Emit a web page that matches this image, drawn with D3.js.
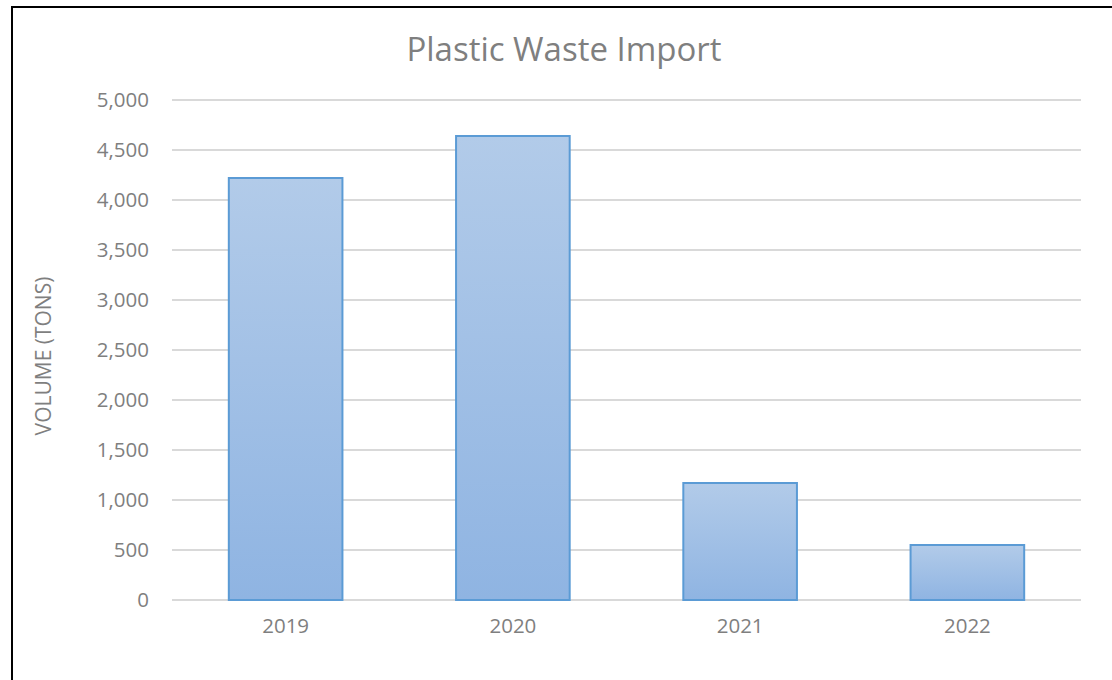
<!DOCTYPE html>
<html>
<head>
<meta charset="utf-8">
<script src="https://cdn.jsdelivr.net/npm/d3@7"></script>
<style>
  html, body { margin: 0; padding: 0; background: #fff; }
  svg { display: block; }
</style>
</head>
<body>
<svg id="chart" width="1112" height="680"></svg>
<script>
const title = "Plastic Waste Import";
const yAxisLabel = "VOLUME (TONS)";
const categories = ["2019", "2020", "2021", "2022"];
const values = [4220, 4640, 1170, 550];
const yTicks = [0, 500, 1000, 1500, 2000, 2500, 3000, 3500, 4000, 4500, 5000];

const svg = d3.select("#chart");
const W = 1112, H = 680;
const plot = { left: 172, right: 1081, top: 100, bottom: 600 };
const font = "'Open Sans', 'Noto Sans', sans-serif";
const textColor = "#7f7f7f";

// outer frame
svg.append("rect")
  .attr("x", 12).attr("y", 7)
  .attr("width", W + 20).attr("height", H + 20)
  .attr("fill", "#fff").attr("stroke", "#000").attr("stroke-width", 2);

const defs = svg.append("defs");
const grad = defs.append("linearGradient").attr("id", "barGrad")
  .attr("x1", 0).attr("y1", 0).attr("x2", 0).attr("y2", 1);
grad.append("stop").attr("offset", "0%").attr("stop-color", "#b2cbe9");
grad.append("stop").attr("offset", "100%").attr("stop-color", "#8fb4e2");

const x = d3.scaleBand().domain(categories)
  .range([plot.left, plot.right]).paddingInner(0.5).paddingOuter(0.25);
const y = d3.scaleLinear().domain([0, 5000]).range([plot.bottom, plot.top]);

// gridlines
svg.append("g").selectAll("line").data(yTicks).join("line")
  .attr("x1", plot.left).attr("x2", plot.right)
  .attr("y1", d => y(d)).attr("y2", d => y(d))
  .attr("stroke", "#d9d9d9").attr("stroke-width", 2);

// y axis labels
const yAxis = d3.axisLeft(y).tickValues(yTicks).tickFormat(d3.format(",")).tickSize(0).tickPadding(23);
const gy = svg.append("g").attr("transform", `translate(${plot.left},0)`).call(yAxis);
gy.select(".domain").remove();
gy.selectAll("text").attr("fill", textColor).style("font-family", font).style("font-size", "20.5px");

// bars
svg.append("g").selectAll("rect").data(values).join("rect")
  .attr("x", (d, i) => x(categories[i]))
  .attr("y", d => y(d))
  .attr("width", x.bandwidth())
  .attr("height", d => y(0) - y(d))
  .attr("fill", "url(#barGrad)")
  .attr("stroke", "#5b9bd5").attr("stroke-width", 2);

// x axis labels
const xAxis = d3.axisBottom(x).tickSize(0).tickPadding(18);
const gx = svg.append("g").attr("transform", `translate(0,${plot.bottom})`).call(xAxis);
gx.select(".domain").remove();
gx.selectAll("text").attr("fill", textColor).style("font-family", font).style("font-size", "20.5px");

// title
svg.append("text")
  .attr("x", 564).attr("y", 61)
  .attr("text-anchor", "middle")
  .attr("fill", textColor)
  .style("font-family", font).style("font-size", "33px")
  .text(title);

// y axis title
svg.append("text")
  .attr("transform", `translate(51,${(plot.top + plot.bottom) / 2 + 6}) rotate(-90)`)
  .attr("text-anchor", "middle")
  .attr("fill", textColor)
  .style("font-family", font).style("font-size", "21px")
  .text(yAxisLabel);
</script>
</body>
</html>
